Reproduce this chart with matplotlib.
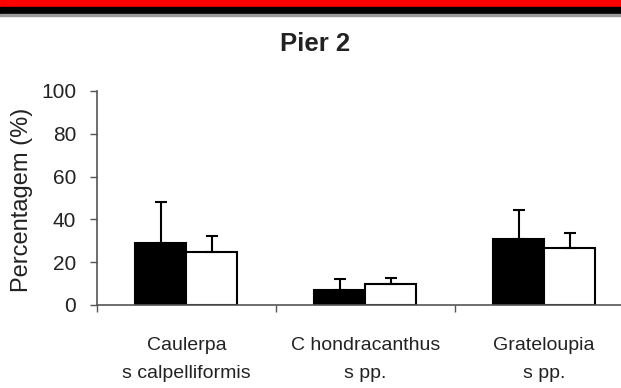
import matplotlib
matplotlib.use("Agg")
import matplotlib.pyplot as plt
from matplotlib.patches import Rectangle
import numpy as np

categories = ["Caulerpa\ns calpelliformis", "C hondracanthus\ns pp.", "Grateloupia\ns pp."]
black_values = [29, 7, 31]
black_errors = [19, 5.3, 13.3]
white_values = [24.6, 9.8, 26.8]
white_errors = [7.8, 2.7, 6.7]
y_ticks = [0, 20, 40, 60, 80, 100]
title = "Pier 2"
ylabel = "Percentagem (%)"

plt.rcParams['font.family'] = ['Liberation Sans', 'DejaVu Sans']
txt = '#222222'
axc = '#555555'

fig = plt.figure(figsize=(6.21, 3.88), dpi=100)
# top banner
fig.patches.append(Rectangle((0, 1 - 7.5/388), 1, 7.5/388, transform=fig.transFigure, color='#ff0000', zorder=0))
fig.patches.append(Rectangle((0, 1 - 14/388), 1, 6.5/388, transform=fig.transFigure, color='#000000', zorder=0))
fig.patches.append(Rectangle((0, 1 - 16/388), 1, 2/388, transform=fig.transFigure, color='#999999', zorder=0))

ax = fig.add_axes([97/621, 83/388, 1 - 97/621, 214/388])
x = np.arange(len(categories))
w = 0.285
ax.bar(x - w/2, black_values, w, color='black', edgecolor='black', linewidth=1.5,
       yerr=[np.zeros(3), black_errors], error_kw=dict(ecolor='black', elinewidth=1.5, capsize=4.5, capthick=1.5))
ax.bar(x + w/2, white_values, w, color='white', edgecolor='black', linewidth=1.5,
       yerr=[np.zeros(3), white_errors], error_kw=dict(ecolor='black', elinewidth=1.5, capsize=4.5, capthick=1.5))

ax.set_xlim(-0.5, 2.43)
ax.set_ylim(0, 100)
ax.set_yticks(y_ticks)
ax.tick_params(axis='y', length=5, width=1, color=axc, labelsize=15, labelcolor=txt, pad=10)
ax.set_xticks(x)
ax.set_xticklabels(categories, fontsize=14, color=txt, linespacing=1.85)
ax.tick_params(axis='x', which='major', length=0, pad=23)
ax.set_xticks([-0.5, 0.5, 1.5], minor=True)
ax.tick_params(axis='x', which='minor', length=5, width=1, color=axc)
for s in ['top', 'right']:
    ax.spines[s].set_visible(False)
for s in ['left', 'bottom']:
    ax.spines[s].set_color(axc)
    ax.spines[s].set_linewidth(1.2)
ax.set_ylabel(ylabel, fontsize=17, color=txt)
ax.yaxis.set_label_coords(-64/524, 0.49)

fig.text(315/621, 1 - 44/388, title, ha='center', va='center', fontsize=18.5, fontweight='bold', color=txt)

fig.savefig("out.png", dpi=100)
